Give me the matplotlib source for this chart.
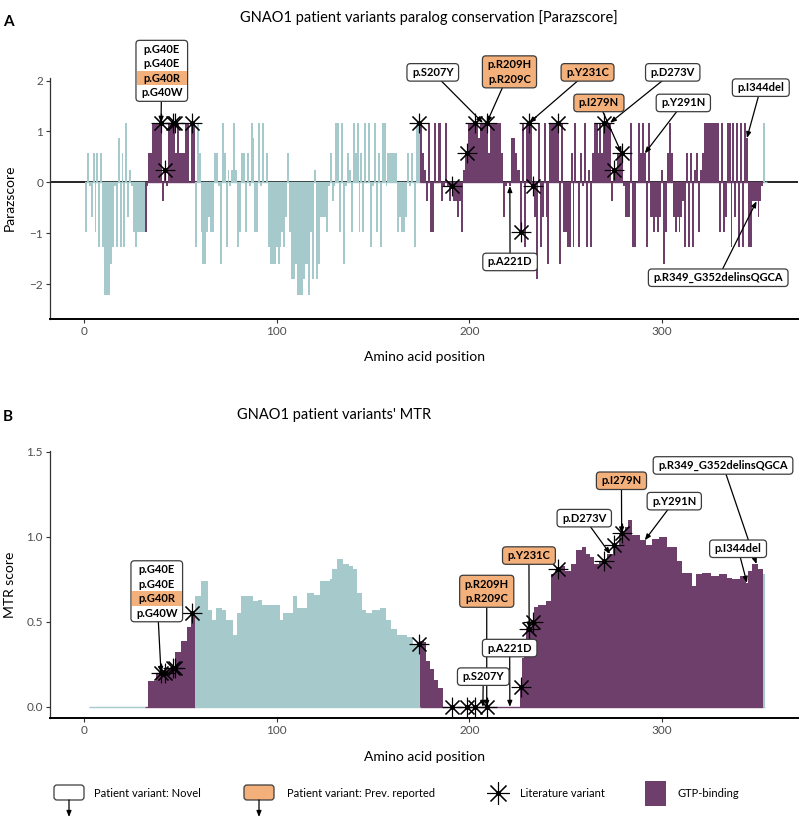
import numpy as np
import matplotlib
matplotlib.use("Agg")
import matplotlib.pyplot as plt
from matplotlib.patches import FancyBboxPatch, Rectangle
from matplotlib.transforms import offset_copy, IdentityTransform

plt.rcParams['font.family'] = ['Lato', 'DejaVu Sans']

TEAL = '#A6C9CB'
PURPLE = '#6F3F6C'
ORANGE = '#F4B07A'
PITCH = 14.5   # px per row inside the variant boxes
PADX, PADY = 5, 1.5

# ---- data ----
# Parazscore per residue, residues 1..354
parazscore = [
    -0.97, 0.57, -0.07, -0.67, 0.57, -0.97, 0.57, -1.27, 0.57, -1.27,
    -2.2, -2.2, -2.2, -1.6, -1.27, -0.07, -1.27, 0.87, -1.27, 0.57,
    -1.27, 1.17, -0.67, 0.25, -0.07, -0.97, -1.27, -0.97, -0.97, -0.97,
    -0.97, -0.97, -0.07, 0.57, 0.57, 1.17, 1.17, 1.17, 1.17, 1.17,
    -0.37, 0.25, -0.07, 1.17, 1.17, 1.17, 1.17, 0.57, 1.17, 0.57,
    0.57, 0.57, 1.17, 1.17, 0.0, 1.17, 1.17, -1.27, 1.17, 0.57,
    -0.97, -1.6, -1.6, -0.97, -0.67, -0.97, -0.97, 0.57, 0.57, -0.07,
    -1.6, 1.17, 0.57, -1.27, 0.25, -0.07, 0.25, 1.17, 0.25, -1.27,
    -0.97, 0.57, 0.57, -0.97, 0.57, -0.07, 1.17, 0.87, -0.97, -0.97,
    1.17, -0.07, 1.17, 0.0, 0.57, -1.27, -1.6, -1.6, -1.6, -1.27,
    -1.6, -1.27, -0.97, -1.27, -0.67, 0.57, -0.97, -1.9, -1.9, -1.6,
    -2.2, -2.2, -2.2, -1.9, -1.6, -1.6, -2.2, -0.97, -1.9, 0.25,
    -1.9, -1.6, -0.67, -0.67, -0.67, -0.97, -0.07, 0.57, -0.37, -0.07,
    1.17, 1.17, -0.97, 1.17, -1.6, -0.07, 0.57, 0.25, -0.97, 1.17,
    0.57, 1.17, -0.97, 0.57, -0.97, 1.17, 0.0, 1.17, -1.27, -0.07,
    1.17, -0.97, 0.57, -1.27, 1.17, 1.17, -0.07, 0.57, 0.57, 0.57,
    0.57, 0.57, -0.97, -0.67, -0.97, -0.97, -0.67, 0.57, -0.07, 0.57,
    0.0, -1.27, 1.17, 1.17, 1.17, 0.57, 0.25, -0.37, 1.17, -0.97,
    -0.97, 1.17, 0.0, 1.17, 1.17, -0.37, -0.07, 1.17, -0.07, -0.37,
    -0.07, -0.37, -0.37, -0.67, -0.37, -0.97, 0.25, 0.57, 0.57, 1.17,
    1.17, 1.17, 1.17, 1.17, 0.87, 1.17, 1.17, 1.17, 1.17, 0.57,
    1.17, 1.17, 1.17, 1.17, 1.17, 1.17, 0.57, -0.67, -0.07, 0.0,
    -0.07, 0.87, 0.87, 0.57, 0.25, 0.25, -0.97, 1.17, -1.27, 1.17,
    1.17, 1.17, -0.07, -0.67, -1.9, 1.17, -1.27, -0.67, 1.17, -0.67,
    -1.6, 1.17, 1.17, 1.17, 1.17, 1.17, -1.6, 1.17, -0.97, -0.97,
    -1.27, -1.27, 0.57, -1.27, 1.17, 0.0, -1.27, 0.57, -0.07, 1.17,
    -1.27, 0.25, -1.27, 0.57, 1.17, 1.17, 0.57, 1.17, 0.57, 1.17,
    1.17, 1.17, 1.17, -0.37, 0.25, 0.25, 0.57, 0.57, 0.57, -0.07,
    -0.67, -0.67, -0.67, 1.17, -1.27, -1.27, 0.0, 1.17, 0.57, 1.17,
    0.57, -1.27, 1.17, -0.67, -0.67, -0.97, -0.67, -0.97, -0.67, 0.25,
    -1.6, -0.97, 0.57, 1.17, 0.57, -0.67, -0.97, -0.67, -0.97, -0.67,
    -0.37, -1.27, 0.57, -1.27, 0.57, -1.27, 0.25, 0.57, -0.97, 0.25,
    0.57, 1.17, 1.17, 1.17, 1.17, 1.17, 1.17, 1.17, 1.17, -0.97,
    1.17, -0.97, -0.67, 1.17, 1.17, -1.27, 1.17, -0.67, 1.17, -1.27,
    1.17, -1.27, 1.17, 0.87, -1.27, -1.27, -0.37, -0.37, -0.37, -0.67,
    -0.37, -0.07, 1.17, 0.0,
]

# MTR score as steps: first residue of each step and its level (last step ends at 353)
mtr_start = [3, 34, 38, 43, 48, 51, 54, 56, 58, 61,
             65, 67, 69, 72, 74, 78, 80, 82, 88, 91,
             93, 102, 104, 109, 111, 116, 120, 123, 128, 129,
             132, 135, 138, 140, 142, 145, 147, 150, 154, 157,
             160, 163, 168, 171, 175, 177, 178, 180, 182, 184,
             187, 227, 228, 229, 230, 233, 234, 236, 240, 243,
             245, 248, 250, 253, 256, 259, 261, 263, 265, 268,
             272, 275, 278, 281, 283, 285, 289, 292, 295, 299,
             303, 308, 311, 316, 318, 321, 326, 330, 334, 337,
             341, 344, 345, 347, 350, 353]
mtr_level = [0.0, 0.15, 0.20, 0.23, 0.32, 0.39, 0.47, 0.55, 0.65, 0.74,
             0.57, 0.51, 0.58, 0.57, 0.51, 0.42, 0.55, 0.65, 0.62, 0.63,
             0.60, 0.51, 0.55, 0.65, 0.58, 0.67, 0.66, 0.74, 0.75, 0.81,
             0.87, 0.84, 0.83, 0.81, 0.67, 0.57, 0.55, 0.57, 0.58, 0.51,
             0.46, 0.42, 0.41, 0.37, 0.39, 0.38, 0.27, 0.22, 0.16, 0.11,
             0.0, 0.12, 0.29, 0.38, 0.46, 0.50, 0.59, 0.60, 0.62, 0.78,
             0.81, 0.83, 0.80, 0.84, 0.92, 0.94, 0.90, 0.88, 0.84, 0.86,
             0.90, 0.95, 1.02, 1.06, 1.10, 1.01, 0.98, 0.95, 0.99, 1.00,
             0.94, 0.86, 0.79, 0.71, 0.78, 0.79, 0.77, 0.78, 0.76, 0.75,
             0.77, 0.73, 0.80, 0.84, 0.81, 0.78]
mtr_end = 353

gtp_ranges = [(32, 57), (175, 352)]

lit_pos = [40, 42, 46, 47, 56, 174, 191, 199, 203, 209, 227, 231, 233, 246, 270, 275, 279]

patient_pos = [40, 207, 209, 221, 231, 273, 279, 291, 344, 349]
patient_rows = [["p.G40E", "p.G40E", "p.G40R", "p.G40W"], ["p.S207Y"], ["p.R209H", "p.R209C"],
                ["p.A221D"], ["p.Y231C"], ["p.D273V"], ["p.I279N"], ["p.Y291N"],
                ["p.I344del"], ["p.R349_G352delinsQGCA"]]
patient_prev = [[False, False, True, False], [False], [True, True], [False], [True],
                [False], [True], [False], [False], [False]]

# label box centres (layout)
lab_a = [(40.4, 2.19), (181, 2.16), (220.8, 2.17), (221.1, -1.56), (261.3, 2.16),
         (305.5, 2.16), (267.2, 1.56), (311, 1.56), (351.2, 1.86), (329.1, -1.87)]
lab_b = [(37.8, 0.68), (207.2, 0.178), (209, 0.68), (220.9, 0.346), (230.9, 0.89),
         (259.6, 1.11), (278.9, 1.33), (306.3, 1.21), (339.4, 0.93), (331.6, 1.42)]

# ---- build per-residue arrays ----
n_res = len(parazscore)
para = np.array(parazscore)
mtr = np.full(n_res, np.nan)
for i, s in enumerate(mtr_start):
    e = mtr_start[i + 1] if i + 1 < len(mtr_start) else mtr_end + 1
    mtr[s - 1:e - 1] = mtr_level[i]

is_gtp = np.zeros(n_res, bool)
for a, b in gtp_ranges:
    is_gtp[a - 1:b] = True


def color_blocks(vals):
    blocks = []
    start = None
    for i in range(n_res):
        ok = np.isfinite(vals[i])
        if start is not None and (not ok or is_gtp[i] != is_gtp[start]):
            blocks.append((start, i))
            start = None
        if ok and start is None:
            start = i
    if start is not None:
        blocks.append((start, n_res))
    return blocks


def draw_profile(ax, vals):
    for a, b in color_blocks(vals):
        c = PURPLE if is_gtp[a] else TEAL
        edges = np.arange(a + 0.5, b + 1.0)
        ax.stairs(vals[a:b], edges, fill=True, baseline=0, color=c, lw=0, zorder=3)
        ax.hlines(0, edges[0], edges[-1], color=c, lw=1.0, zorder=2.5)


def draw_lit(ax, vals):
    xs = np.array(lit_pos)
    ys = vals[xs - 1]
    ax.plot(xs, ys, ls='none', marker=(8, 2, 0), ms=14, mew=0.8, mec='black', zorder=4)
    ax.plot(xs, ys, ls='none', marker='o', ms=2.5, color='black', zorder=4)


pending = []


def draw_labels(ax, vals, centers):
    for pos, rows, prev, (lx, ly) in zip(patient_pos, patient_rows, patient_prev, centers):
        ax.annotate('', xy=(pos, vals[pos - 1]), xytext=(lx, ly), annotation_clip=False,
                    arrowprops=dict(arrowstyle='-|>,head_length=0.5,head_width=0.2',
                                    color='black', lw=0.9, shrinkA=0, shrinkB=0,
                                    mutation_scale=7), zorder=5)
        n = len(rows)
        texts = []
        for i, r in enumerate(rows):
            dy = ((n - 1) / 2 - i) * PITCH * 0.72
            tr = offset_copy(ax.transData, fig=fig, x=0, y=dy, units='points')
            texts.append(ax.text(lx, ly, r, transform=tr, ha='center', va='center',
                                 fontsize=8, fontweight='bold', zorder=9, clip_on=False))
        pending.append((ax, lx, ly, texts, prev))


def style_axis(ax):
    ax.spines[['top', 'right']].set_visible(False)
    ax.spines['bottom'].set_linewidth(1.4)
    ax.spines['bottom'].set_color('black')
    ax.spines['left'].set_linewidth(0.9)
    ax.spines['left'].set_color('#333333')
    ax.tick_params(length=3, width=0.8, color='#333333', labelsize=8.5,
                   labelcolor='#4D4D4D', pad=2)
    ax.set_xlim(-17.6, 370.5)
    ax.set_xticks([0, 100, 200, 300])


fig = plt.figure(figsize=(8, 8.26), dpi=100)
ax_a = fig.add_axes([0.0625, 0.6138, 0.935, 0.2918])
ax_b = fig.add_axes([0.0625, 0.1308, 0.935, 0.3232])

# panel A
ax_a.axhline(0, color='black', lw=1.2, zorder=1)
draw_profile(ax_a, para)
draw_lit(ax_a, para)
draw_labels(ax_a, para, lab_a)
style_axis(ax_a)
ax_a.set_ylim(-2.68, 2.05)
ax_a.set_yticks([-2, -1, 0, 1, 2])

# panel B
draw_profile(ax_b, mtr)
draw_lit(ax_b, mtr)
draw_labels(ax_b, mtr, lab_b)
style_axis(ax_b)
ax_b.set_ylim(-0.065, 1.505)
ax_b.set_yticks([0, 0.5, 1.0, 1.5])
ax_b.set_yticklabels(['0.0', '0.5', '1.0', '1.5'])


def px(x, y):
    return x / 800, 1 - y / 826


fig.text(*px(429, 18), 'GNAO1 patient variants paralog conservation [Parazscore]',
         ha='center', va='center', fontsize=10.5)
fig.text(*px(237, 415), "GNAO1 patient variants' MTR", ha='left', va='center', fontsize=10.5)
fig.text(*px(8, 22), 'A', ha='center', va='center', fontsize=11, fontweight='bold')
fig.text(*px(8, 417), 'B', ha='center', va='center', fontsize=11, fontweight='bold')
fig.text(*px(424, 357), 'Amino acid position', ha='center', va='center', fontsize=10)
fig.text(*px(424, 757), 'Amino acid position', ha='center', va='center', fontsize=10)
fig.text(*px(10, 198), 'Parazscore', ha='center', va='center', rotation=90, fontsize=10)
fig.text(*px(10, 585), 'MTR score', ha='center', va='center', rotation=90, fontsize=10)

# legend strip in pixel coordinates
ax_l = fig.add_axes([0, 0, 1, 70 / 826])
ax_l.set_xlim(0, 800)
ax_l.set_ylim(826, 756)
ax_l.axis('off')
for x0, fc, tx, label in [(54, 'white', 94, 'Patient variant: Novel'),
                          (244, ORANGE, 287, 'Patient variant: Prev. reported')]:
    ax_l.add_patch(FancyBboxPatch((x0, 785), 30, 15, boxstyle='round,pad=0,rounding_size=3',
                                  fc=fc, ec='#3c3c3c', lw=0.9))
    ax_l.annotate('', xy=(x0 + 15, 817), xytext=(x0 + 15, 800),
                  arrowprops=dict(arrowstyle='-|>,head_length=0.5,head_width=0.2', color='black',
                                  lw=0.9, shrinkA=0, shrinkB=0, mutation_scale=7))
    ax_l.text(tx, 793, label, ha='left', va='center', fontsize=8)
ax_l.plot([498], [793], marker=(8, 2, 0), ms=16, mew=0.8, mec='black')
ax_l.plot([498], [793], marker='o', ms=2.5, color='black')
ax_l.text(520, 793, 'Literature variant', ha='left', va='center', fontsize=8)
ax_l.add_patch(Rectangle((645, 781), 21, 25, fc=PURPLE, ec='none'))
ax_l.text(677, 793, 'GTP-binding', ha='left', va='center', fontsize=8)

# variant boxes sized from their rendered rows (display coordinates)
fig.canvas.draw()
rend = fig.canvas.get_renderer()
for ax, lx, ly, texts, prev in pending:
    n = len(texts)
    w = max(t.get_window_extent(rend).width for t in texts) + 2 * PADX
    h = n * PITCH + 2 * PADY
    cx, cy = ax.transData.transform((lx, ly))
    fc = ORANGE if all(prev) else 'white'
    box = FancyBboxPatch((cx - w / 2, cy - h / 2), w, h,
                         boxstyle='round,pad=0,rounding_size=3.5', fc=fc, ec='#3c3c3c',
                         lw=0.9, transform=IdentityTransform(), zorder=7, clip_on=False)
    ax.add_artist(box)
    if any(prev) and not all(prev):
        for i, p in enumerate(prev):
            if not p:
                continue
            rc = cy + ((n - 1) / 2 - i) * PITCH
            ax.add_artist(Rectangle((cx - w / 2 + 0.8, rc - PITCH / 2), w - 1.6, PITCH,
                                    fc=ORANGE, ec='none', transform=IdentityTransform(),
                                    zorder=8, clip_on=False))

fig.savefig('out.png', dpi=100)
